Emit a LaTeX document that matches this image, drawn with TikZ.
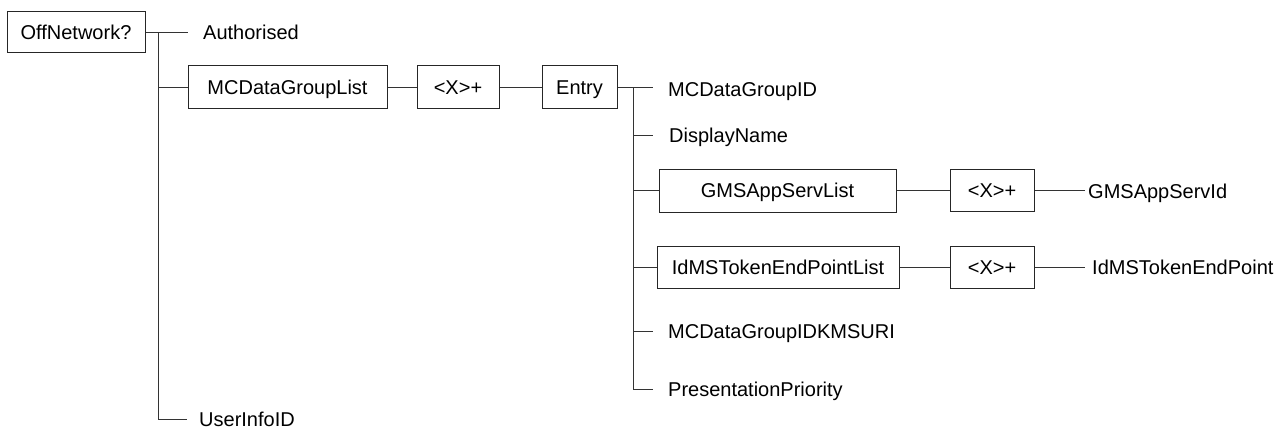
\documentclass[tikz,border=0pt]{standalone}
\usepackage{fontspec}
\setmainfont{Liberation Sans}
\begin{document}
\begin{tikzpicture}[x=1pt,y=-1pt,
  every node/.style={font=\fontsize{20}{24}\selectfont},
  boxn/.style={draw=black!85, line width=1pt, inner sep=0pt, text height=14.3pt, text depth=0pt, minimum height=42pt},
  leaf/.style={anchor=base west, inner sep=0pt},
  conn/.style={draw=black!80, line width=1pt}]
\useasboundingbox (0,0) rectangle (1282,428);
% boxes
\node[boxn, minimum width=138pt, minimum height=41pt] (off) at (76,32.5) {OffNetwork?};
\node[boxn, minimum width=199pt] (mcl) at (287.5,87) {MCDataGroupList};
\node[boxn, minimum width=82pt] (x1) at (458,87) {<X>+};
\node[boxn, minimum width=75pt] (entry) at (579.5,87) {Entry};
\node[boxn, minimum width=237pt, minimum height=43pt] (gms) at (777.5,190.5) {GMSAppServList};
\node[boxn, minimum width=84pt] (x2) at (992,190.5) {<X>+};
\node[boxn, minimum width=242pt] (idms) at (778,267) {IdMSTokenEndPointList};
\node[boxn, minimum width=84pt] (x3) at (992,267) {<X>+};
% leaves
\node[leaf] (auth) at (203,39.5) {Authorised};
\node[leaf] (uid) at (199,426) {UserInfoID};
\node[leaf] (mcid) at (668,96) {MCDataGroupID};
\node[leaf] (dn) at (669,142) {DisplayName};
\node[leaf] (kms) at (668,338.5) {MCDataGroupIDKMSURI};
\node[leaf] (pp) at (668,396.5) {PresentationPriority};
\node[leaf] (gid) at (1088,198.5) {GMSAppServId};
\node[leaf] (iep) at (1092,274.5) {IdMSTokenEndPoint};
% junction coordinates
\coordinate (t1top) at (158,32.5);
\coordinate (t1mcl) at (158,87);
\coordinate (t1bot) at (158,419);
\coordinate (authe) at (188,32.5);
\coordinate (uide) at (187,419);
\coordinate (t2top) at (633,87);
\coordinate (t2dn) at (633,135);
\coordinate (t2gms) at (633,190.5);
\coordinate (t2idms) at (633,267);
\coordinate (t2kms) at (633,331);
\coordinate (t2bot) at (633,389);
\coordinate (mcide) at (653,87);
\coordinate (dne) at (653,135);
\coordinate (kmse) at (653,331);
\coordinate (ppe) at (653,389);
\coordinate (gide) at (1085,190.5);
\coordinate (iepe) at (1085,267);
% connectors
\draw[conn] (off.east) -- (authe);
\draw[conn] (t1top) -- (t1bot) -- (uide);
\draw[conn] (t1mcl) -- (mcl.west);
\draw[conn] (mcl.east) -- (x1.west);
\draw[conn] (x1.east) -- (entry.west);
\draw[conn] (entry.east) -- (mcide);
\draw[conn] (t2top) -- (t2bot) -- (ppe);
\draw[conn] (t2dn) -- (dne);
\draw[conn] (t2gms) -- (gms.west);
\draw[conn] (t2idms) -- (idms.west);
\draw[conn] (t2kms) -- (kmse);
\draw[conn] (gms.east) -- (x2.west);
\draw[conn] (idms.east) -- (x3.west);
\draw[conn] (x2.east) -- (gide);
\draw[conn] (x3.east) -- (iepe);
\end{tikzpicture}
\end{document}
